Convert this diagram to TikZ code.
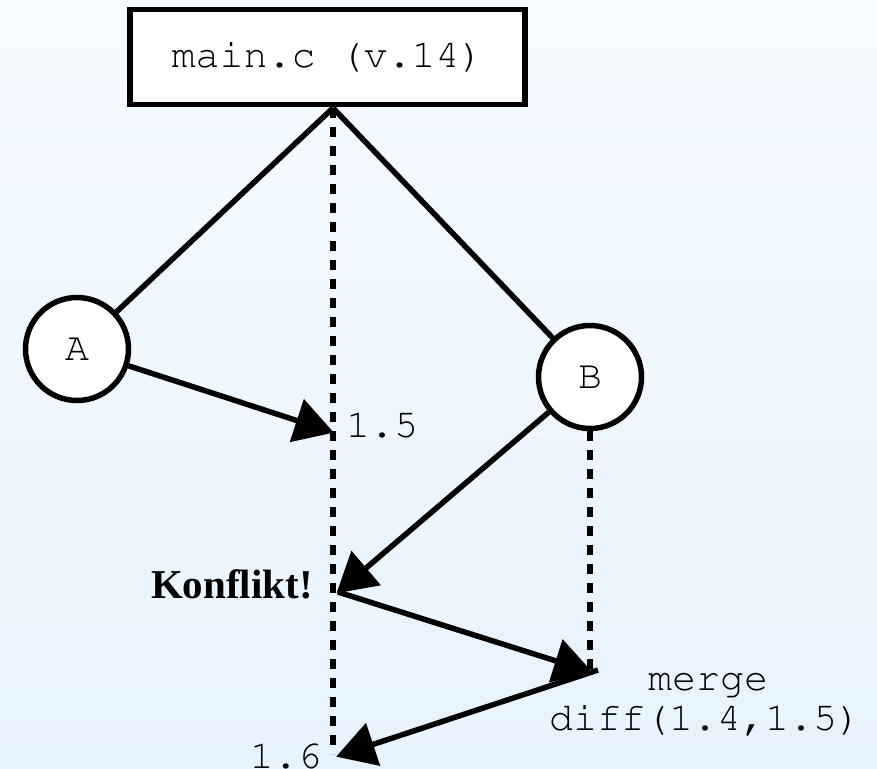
\documentclass[tikz,border=0pt]{standalone}
\usepackage{fontspec}
\setmainfont{Liberation Serif}
\newcommand{\cour}{\usefont{T1}{pcr}{m}{n}}
\usetikzlibrary{arrows.meta}
\begin{document}
\begin{tikzpicture}[x=1pt,y=-1pt,
  lbl/.style={font=\cour\fontsize{40}{46}\selectfont,inner sep=0pt},
  thick5/.style={line width=5.5pt},
  dashv/.style={line width=5.5pt,dash pattern=on 10pt off 9pt},
  arr/.style={line width=5.5pt,-{Triangle[length=39pt,width=44pt]},shorten >=-2pt},
  circ/.style={circle,draw,line width=5.5pt,fill=white,minimum size=103pt,inner sep=0pt,font=\cour\fontsize{40}{46}\selectfont}]
\shade[top color={rgb,255:red,246;green,251;blue,255},bottom color={rgb,255:red,231;green,243;blue,254}] (0,0) rectangle (877,768);
\useasboundingbox (0,0) rectangle (877,768);
% coordinates
\coordinate (top) at (333,108);
\coordinate (bot) at (333,754);
\coordinate (p15) at (332,432);
\coordinate (pK) at (338,592);
\coordinate (pM) at (591,672);
\coordinate (pMs) at (598,670);
\coordinate (p16) at (338,756);
\coordinate (Bd) at (590,672);
% dashed timelines
\draw[dashv] (top) -- (bot);
\node[circ] (A) at (77,349) {A};
\node[circ] (B) at (590,377) {B};
\draw[dashv] (B.south) -- (Bd);
% box
\node[draw,line width=5.5pt,fill=white,minimum width=395pt,minimum height=95pt,inner sep=0pt,font=\cour\fontsize{40}{46}\selectfont] (box) at (327.5,57) {main.c (v.14)};
% branch lines
\draw[thick5] (top) -- (A);
\draw[thick5] (top) -- (B);
% arrows
\draw[arr] (A) -- (p15);
\draw[arr] (B) -- (pK);
\draw[arr] (pK) -- (pM);
\draw[arr] (pMs) -- (p16);
% labels
\node[lbl,anchor=base west] (l15) at (346,437) {1.5};
\node[font=\bfseries\fontsize{41}{46}\selectfont,inner sep=0pt,anchor=base east] (kon) at (313,598) {Konflikt!};
\node[lbl,anchor=base] (merge) at (708,690) {merge};
\node[lbl,anchor=base] (diff) at (705,730) {diff(1.4,1.5)};
\node[lbl,anchor=base east] (l16) at (322,768) {1.6};
\end{tikzpicture}
\end{document}
